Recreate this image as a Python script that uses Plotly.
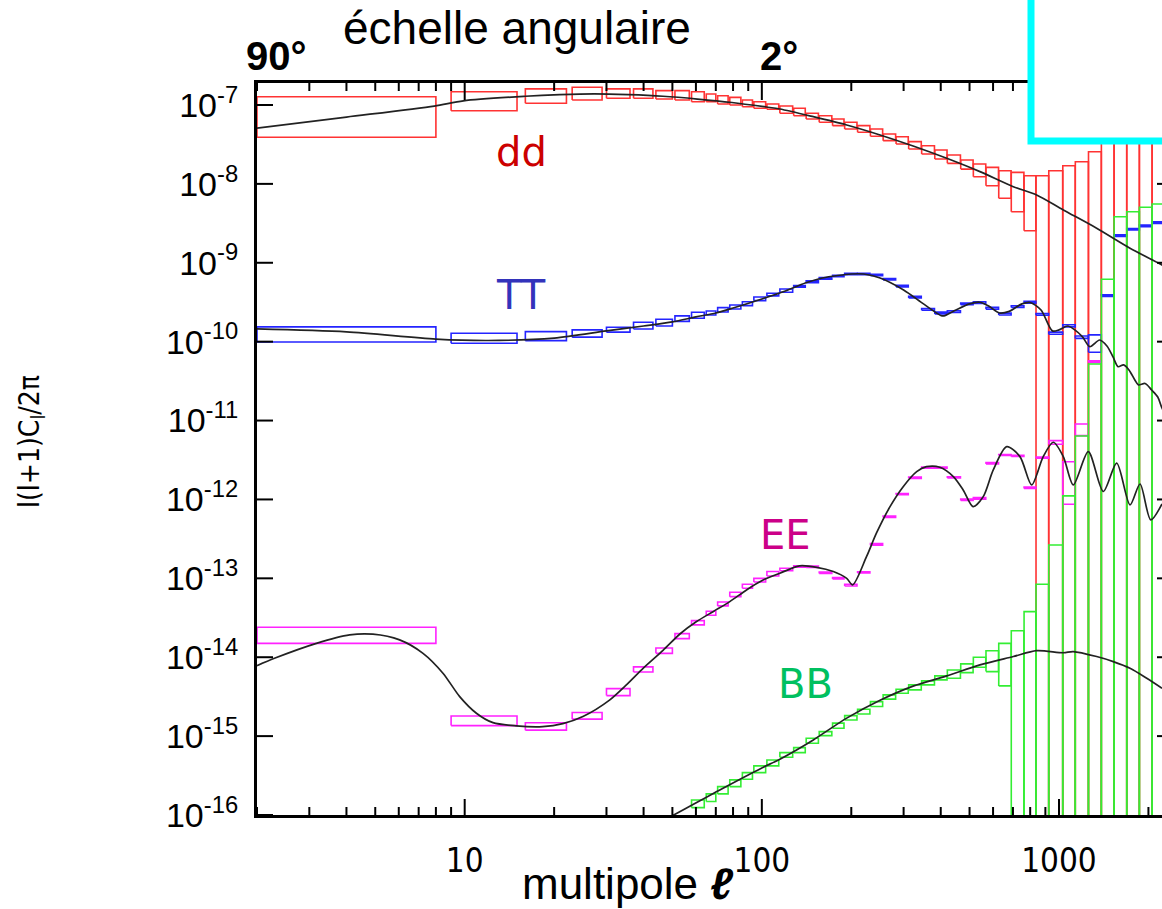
import plotly.graph_objects as go

# ---------------- data ----------------
bin_lo = [2, 9, 16, 23, 30, 37, 44, 51, 58, 65, 71, 78, 86, 94, 104,
          115, 128, 141, 156, 173, 190, 210, 232, 256, 283, 312, 345, 382, 421, 467,
          515, 568, 627, 691, 763, 837, 924, 1030, 1135, 1257, 1389, 1533, 1691, 1865, 2058]
bin_hi = [8, 15, 22, 29, 36, 43, 50, 57, 64, 70, 77, 85, 93, 103, 114,
          127, 140, 155, 172, 189, 209, 231, 255, 282, 311, 344, 381, 420, 466, 514,
          567, 626, 690, 762, 836, 923, 1029, 1134, 1256, 1388, 1532, 1690, 1864, 2057, 2270]

OFF = 1e-20  # lower bound below the plotted range

dd_hi = [1.27e-7, 1.47e-7, 1.60e-7, 1.68e-7, 1.60e-7, 1.60e-7, 1.52e-7, 1.52e-7, 1.47e-7, 1.38e-7,
         1.31e-7, 1.25e-7, 1.157e-7, 1.10e-7, 1.03e-7,
         9.7e-8, 9.08e-8, 7.85e-8, 7.32e-8, 6.65e-8, 6.04e-8, 5.47e-8, 4.96e-8, 4.29e-8, 3.96e-8,
         3.43e-8, 3.05e-8, 2.69e-8, 2.32e-8, 2.01e-8, 1.79e-8, 1.62e-8, 1.47e-8, 1.40e-8, 1.27e-8,
         1.27e-8, 1.47e-8, 1.70e-8, 1.91e-8, 2.56e-8, 5e-8, 8e-8, 1.2e-7, 2e-7, 3e-7]
dd_lo = [3.90e-8, 8.47e-8, 1.05e-7, 1.157e-7, 1.22e-7, 1.22e-7, 1.19e-7, 1.157e-7, 1.10e-7, 1.10e-7,
         1.03e-7, 1.0e-7, 9.52e-8, 9.08e-8, 8.82e-8,
         7.85e-8, 7.32e-8, 6.65e-8, 6.04e-8, 5.47e-8, 4.96e-8, 4.51e-8, 4.01e-8, 3.53e-8, 3.20e-8,
         2.77e-8, 2.39e-8, 2.07e-8, 1.82e-8, 1.54e-8, 1.23e-8, 9.49e-9, 6.57e-9, 4.44e-9, 2.55e-9,
         OFF, OFF, OFF, OFF, OFF, OFF, OFF, OFF, OFF, OFF]

tt_hi = [1.54e-10, 1.28e-10, 1.34e-10, 1.41e-10, 1.52e-10, 1.76e-10, 1.92e-10, 2.12e-10, 2.36e-10, 2.45e-10,
         2.70e-10, 2.92e-10, 3.21e-10, 3.69e-10, 4.11e-10,
         4.66e-10, 5.13e-10, 5.9e-10, 6.5e-10, 6.95e-10, 7.35e-10, 7.35e-10, 7.15e-10, 6.3e-10, 5.2e-10,
         3.75e-10, 2.63e-10, 2.37e-10, 2.46e-10, 3.08e-10, 3.2e-10, 2.72e-10, 2.3e-10, 2.85e-10, 3.24e-10,
         2.28e-10, 1.32e-10, 1.64e-10, 1.18e-10, 1.22e-10, 3.92e-10, 2.26e-9, 2.72e-9, 3.0e-9, 3.3e-9]
tt_lo = [9.9e-11, 9.55e-11, 1.03e-10, 1.14e-10, 1.32e-10, 1.45e-10, 1.58e-10, 1.81e-10, 1.98e-10, 2.18e-10,
         2.38e-10, 2.60e-10, 2.86e-10, 3.31e-10, 3.80e-10,
         4.23e-10, 4.89e-10, 5.6e-10, 6.2e-10, 6.65e-10, 7.05e-10, 7.05e-10, 6.85e-10, 6.05e-10, 4.95e-10,
         3.57e-10, 2.5e-10, 2.25e-10, 2.34e-10, 2.94e-10, 3.05e-10, 2.58e-10, 2.18e-10, 2.71e-10, 3.08e-10,
         2.16e-10, 1.24e-10, 1.54e-10, 1.10e-10, 7.34e-11, 3.74e-10, 2.16e-9, 2.6e-9, 2.86e-9, 3.14e-9]

ee_hi = [2.40e-14, 1.80e-15, 1.48e-15, 1.99e-15, 4.0e-15, 7.54e-15, 1.31e-14, 1.99e-14, 2.91e-14, 3.83e-14,
         5.02e-14, 6.66e-14, 8.41e-14, 1.0e-13, 1.22e-13,
         1.34e-13, 1.44e-13, 1.43e-13, 1.20e-13, 1.02e-13, 8.4e-14, 1.21e-13, 2.75e-13, 6.15e-13, 1.19e-12,
         1.92e-12, 2.57e-12, 2.57e-12, 1.94e-12, 1.01e-12, 1.06e-12, 2.93e-12, 3.72e-12, 3.62e-12, 1.44e-12,
         3.45e-12, 5.56e-12, 3.01e-12, 9.06e-12, 5.7e-11, None, None, None, None, None]
ee_lo = [1.50e-14, 1.36e-15, 1.19e-15, 1.64e-15, 3.26e-15, 6.51e-15, 1.12e-14, 1.72e-14, 2.57e-14, 3.41e-14,
         4.47e-14, 5.86e-14, 7.49e-14, 9.0e-14, 1.07e-13,
         1.25e-13, 1.38e-13, 1.37e-13, 1.15e-13, 0.98e-13, 8.0e-14, 1.17e-13, 2.63e-13, 5.9e-13, 1.15e-12,
         1.85e-12, 2.48e-12, 2.48e-12, 1.87e-12, 0.97e-12, 1.01e-12, 2.82e-12, 3.6e-12, 3.5e-12, 1.38e-12,
         3.33e-12, 5.01e-12, 8.69e-13, 6.44e-12, 5.45e-11, None, None, None, None, None]

bb_hi = [None, None, None, None, None, None, None, None,
         1.55e-16, 1.85e-16, 2.29e-16, 2.79e-16, 3.44e-16, 4.19e-16, 4.99e-16,
         6.18e-16, 7.15e-16, 9.4e-16, 1.14e-15, 1.46e-15, 1.82e-15, 2.19e-15, 2.74e-15, 3.33e-15, 3.93e-15,
         4.46e-15, 5.01e-15, 5.80e-15, 6.90e-15, 8.23e-15, 1.0e-14, 1.21e-14, 1.50e-14, 2.17e-14, 3.78e-14,
         8.42e-14, 2.65e-13, 1.11e-12, 6.38e-12, 5.21e-11, 6.18e-10, 3.84e-9, 4.44e-9, 5.05e-9, 5.56e-9]
bb_lo = [None, None, None, None, None, None, None, None,
         1.24e-16, 1.48e-16, 1.85e-16, 2.29e-16, 2.84e-16, 3.44e-16, 4.19e-16,
         5.40e-16, 6.18e-16, 8.13e-16, 1.015e-15, 1.26e-15, 1.60e-15, 1.91e-15, 2.37e-15, 2.94e-15, 3.50e-15,
         3.85e-15, 4.46e-15, 5.16e-15, 5.42e-15, 6.38e-15, 7.47e-15, 6.57e-15, 4.33e-15, OFF, OFF,
         OFF, OFF, OFF, OFF, OFF, OFF, OFF, OFF, OFF, OFF]

# theory curves
dd_l = [2, 4, 7.9, 9.9, 16, 20.9, 27.3, 35.6, 46.5, 60.7, 79.3, 103.6, 115, 149, 193, 250, 323, 419,
        542, 702, 841, 1034, 1339, 1734, 2222, 2450]
dd_c = [5.1e-8, 7.03e-8, 9.7e-8, 1.13e-7, 1.29e-7, 1.35e-7, 1.38e-7, 1.35e-7, 1.29e-7, 1.19e-7, 1.076e-7,
        9.43e-8, 8.9e-8, 7.11e-8, 5.58e-8, 4.17e-8, 3.02e-8, 2.11e-8, 1.43e-8, 9.22e-9, 7.23e-9, 4.67e-9,
        2.74e-9, 1.53e-9, 9.38e-10, 7.6e-10]

tt_l = [2, 4, 8, 12, 20, 30, 40, 50, 60, 70, 80, 100, 120, 140, 160, 180, 200, 220, 250, 300, 350, 400,
        410, 450, 500, 540, 580, 630, 680, 750, 800, 870, 950, 1000, 1070, 1130, 1200, 1270, 1370, 1450,
        1520, 1580, 1650, 1720, 1800, 1850, 1950, 2050, 2150, 2230, 2400]
tt_c = [1.45e-10, 1.33e-10, 1.08e-10, 1.035e-10, 1.11e-10, 1.37e-10, 1.58e-10, 1.78e-10, 2.06e-10,
        2.31e-10, 2.67e-10, 3.48e-10, 4.39e-10, 5.54e-10, 6.41e-10, 6.90e-10, 7.21e-10, 7.21e-10,
        6.41e-10, 4.52e-10, 3.01e-10, 2.15e-10, 2.12e-10, 2.52e-10, 3.01e-10, 3.16e-10, 2.83e-10,
        2.31e-10, 2.42e-10, 3.01e-10, 3.14e-10, 2.52e-10, 1.37e-10, 1.41e-10, 1.58e-10, 1.41e-10,
        1.15e-10, 8.64e-11, 1.05e-10, 8.82e-11, 6.40e-11, 4.82e-11, 5.07e-11, 4.38e-11, 3.27e-11,
        2.83e-11, 2.95e-11, 2.44e-11, 1.99e-11, 1.40e-11, 1.0e-11]

ee_l = [2, 2.29, 3.17, 4.10, 4.91, 6.04, 7.24, 8.45, 9.62, 10.95, 12.45, 14.9, 18.3, 21.4, 25.0, 30.8,
        35, 40, 46.5, 53, 60.3, 68.5, 78, 88.8, 101, 115, 134, 153, 174, 193, 202, 225, 243, 270, 299,
        332, 358, 397, 441, 476, 514, 556, 601, 667, 739, 809, 885, 957, 1034, 1117, 1255, 1410, 1564,
        1734, 1874, 2036, 2222]
ee_c = [7.83e-15, 9.7e-15, 1.50e-14, 1.92e-14, 1.96e-14, 1.66e-14, 1.12e-14, 6.27e-15, 3.17e-15,
        1.95e-15, 1.48e-15, 1.35e-15, 1.32e-15, 1.44e-15, 1.77e-15, 2.88e-15, 4.45e-15, 7.32e-15,
        1.22e-14, 1.97e-14, 2.83e-14, 3.78e-14, 5.07e-14, 7.13e-14, 9.5e-14, 1.16e-13, 1.44e-13,
        1.38e-13, 1.22e-13, 1.0e-13, 8.24e-14, 1.88e-13, 3.73e-13, 8.10e-13, 1.45e-12, 2.25e-12,
        2.60e-12, 2.56e-12, 1.95e-12, 1.32e-12, 8.10e-13, 1.085e-12, 2.37e-12, 4.67e-12, 3.49e-12,
        1.53e-12, 3.49e-12, 5.31e-12, 3.49e-12, 1.53e-12, 4.04e-12, 1.26e-12, 2.88e-12, 8.52e-13,
        1.57e-12, 5.50e-13, 8.77e-13]

bb_l = [45.4, 50.5, 72.2, 100, 115, 149, 193, 250, 323, 419, 542, 702, 841, 1034, 1117, 1339, 1523,
        1734, 1974, 2222]
bb_c = [8.2e-17, 1.0e-16, 2.08e-16, 3.95e-16, 5.10e-16, 8.95e-16, 1.69e-15, 2.85e-15, 4.3e-15,
        5.8e-15, 8.0e-15, 1.02e-14, 1.21e-14, 1.14e-14, 1.18e-14, 1.02e-14, 8.80e-15, 7.25e-15,
        5.42e-15, 4.05e-15]

decades = [1e-16, 1e-15, 1e-14, 1e-13, 1e-12, 1e-11, 1e-10, 1e-9, 1e-8, 1e-7]
decade_text = ["10<sup>-16</sup>", "10<sup>-15</sup>", "10<sup>-14</sup>", "10<sup>-13</sup>",
               "10<sup>-12</sup>", "10<sup>-11</sup>", "10<sup>-10</sup>", "10<sup>-9</sup>",
               "10<sup>-8</sup>", "10<sup>-7</sup>"]
x_major = [10, 100, 1000]
x_major_text = ["10", "100", "1000"]
x_minor = [2, 3, 4, 5, 6, 7, 8, 9, 20, 30, 40, 50, 60, 70, 80, 90,
           200, 300, 400, 500, 600, 700, 800, 900, 2000]

# ---------------- figure ----------------
def box_path(ylo, yhi):
    xs, ys = [], []
    for a, b, y0, y1 in zip(bin_lo, bin_hi, ylo, yhi):
        if y0 is None or y1 is None:
            continue
        xs += [a, b, b, a, a, None]
        ys += [y0, y0, y1, y1, y0, None]
    return xs, ys

fig = go.Figure()
for lo, hi, col in [(dd_lo, dd_hi, "#ff3333"), (tt_lo, tt_hi, "#2424ff"),
                    (ee_lo, ee_hi, "#ff22ff"), (bb_lo, bb_hi, "#33ee33")]:
    xs, ys = box_path(lo, hi)
    fig.add_trace(go.Scatter(x=xs, y=ys, mode="lines", line=dict(color=col, width=1.6),
                             hoverinfo="skip", connectgaps=False))

for lx, cy in [(dd_l, dd_c), (tt_l, tt_c), (ee_l, ee_c), (bb_l, bb_c)]:
    fig.add_trace(go.Scatter(x=lx, y=cy, mode="lines",
                             line=dict(color="#222222", width=1.7, shape="spline", smoothing=0.8),
                             hoverinfo="skip"))

# ---- tick marks, drawn through the axis scales (pixel-length frame overlays) ----
PW, PH = 905, 732          # plot area size in px
MAJ, MIN_, RSTUB = 16, 8, 5  # tick lengths in px

tx, ty = [], []
for v in x_major:
    tx += [v, v, None, v, v, None]
    ty += [0, MAJ, None, PH - MAJ - 1, PH, None]
for v in x_minor:
    tx += [v, v, None, v, v, None]
    ty += [0, MIN_, None, PH - MIN_, PH, None]
fig.add_trace(go.Scatter(x=tx, y=ty, xaxis="x", yaxis="y2", mode="lines",
                         line=dict(color="black", width=2), hoverinfo="skip"))

yx, yy = [], []
for d in decades:
    yx += [0, MAJ, None]
    yy += [d, d, None]
for d in decades[1:9]:
    yx += [PW - RSTUB, PW, None]
    yy += [d, d, None]
fig.add_trace(go.Scatter(x=yx, y=yy, xaxis="x2", yaxis="y", mode="lines",
                         line=dict(color="black", width=2), hoverinfo="skip"))

axis_font = "Liberation Sans, Arial, sans-serif"
narrow_font = "Liberation Sans Narrow, Arial Narrow, DejaVu Sans Condensed, Liberation Sans"

XR = [0.30103, 3.3467]
YR = [-16, -6.7212]

fig.update_layout(
    template="none",
    width=1162, height=909,
    margin=dict(l=257, r=0, t=83, b=94),
    paper_bgcolor="white", plot_bgcolor="white",
    showlegend=False,
    xaxis=dict(type="log", range=XR, showgrid=False, zeroline=False, layer="above traces",
               showline=True, linecolor="black", linewidth=3, mirror=True,
               ticks="", tickmode="array", tickvals=x_major, ticktext=x_major_text,
               tickfont=dict(family=narrow_font, size=33, color="black"),
               ticklabelstandoff=14),
    xaxis2=dict(range=[0, PW], overlaying="x", anchor="y", visible=False, showgrid=False,
                zeroline=False),
    yaxis=dict(type="log", range=YR, showgrid=False, zeroline=False, layer="above traces",
               showline=True, linecolor="black", linewidth=3, mirror=False,
               ticks="", tickmode="array", tickvals=decades, ticktext=decade_text,
               tickfont=dict(family=axis_font, size=34, color="black"),
               ticklabelstandoff=9),
    yaxis2=dict(range=[0, PH], overlaying="y", anchor="x", visible=False, showgrid=False,
                zeroline=False),
)

def px_to_paper(px, py):
    return (px - 257) / 905.0, (815 - py) / 732.0

annos = [
    ("dd", 521, 152, "#cc0000", 40, "DejaVu Sans"),
    ("TT", 521, 295, "#3333bb", 40, "DejaVu Sans"),
    ("EE", 785, 535, "#cc0088", 40, "DejaVu Sans"),
    ("BB", 805, 684, "#00c060", 40, "DejaVu Sans"),
]
for txt, px, py, col, sz, fam in annos:
    xp, yp = px_to_paper(px, py)
    fig.add_annotation(x=xp, y=yp, xref="paper", yref="paper", text=txt, showarrow=False,
                       xanchor="center", yanchor="middle",
                       font=dict(family=fam, size=sz, color=col))

top_texts = [
    ("<b>90°</b>", 276, 56, 40),
    ("échelle angulaire", 517, 28, 46),
    ("<b>2°</b>", 779, 56, 40),
]
for txt, px, py, sz in top_texts:
    xp, yp = px_to_paper(px, py)
    fig.add_annotation(x=xp, y=yp, xref="paper", yref="paper", text=txt, showarrow=False,
                       xanchor="center", yanchor="middle",
                       font=dict(family=axis_font, size=sz, color="black"))

xp, yp = px_to_paper(627, 883)
fig.add_annotation(x=xp, y=yp, xref="paper", yref="paper", text="multipole <b><i>ℓ</i></b>",
                   showarrow=False, xanchor="center", yanchor="middle",
                   font=dict(family=axis_font, size=44, color="black"))

xp, yp = px_to_paper(31, 442)
fig.add_annotation(x=xp, y=yp, xref="paper", yref="paper", text="l(l+1)C<sub>l</sub>/2π",
                   showarrow=False, xanchor="center", yanchor="middle", textangle=-90,
                   font=dict(family=narrow_font, size=28, color="black"))

# cyan frame (top right)
x0, y0 = px_to_paper(1031, 141)
fig.add_shape(type="rect", xref="paper", yref="paper", x0=x0, x1=1.2, y0=y0, y1=1.3,
              line=dict(color="#00ffff", width=7), fillcolor="white", layer="above")

fig.write_html("out.html")
